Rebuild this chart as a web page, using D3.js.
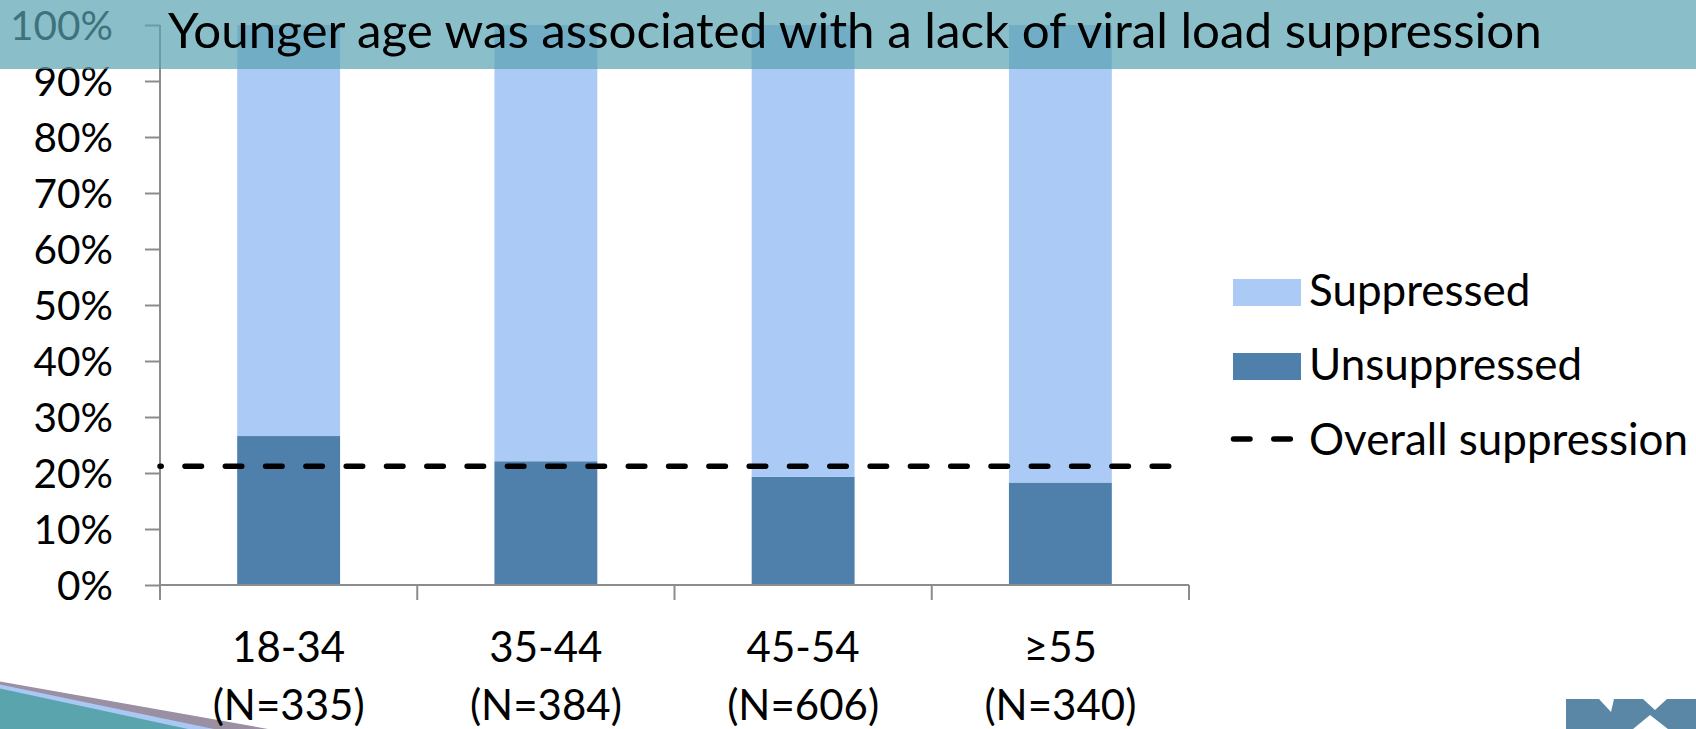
<!DOCTYPE html>
<html>
<head>
<meta charset="utf-8">
<script src="https://cdn.jsdelivr.net/npm/d3@7"></script>
<style>
  html, body { margin: 0; padding: 0; background: #fff; }
  svg { display: block; }
  text { font-family: Lato, "Noto Sans", sans-serif; fill: #000; }
</style>
</head>
<body>
<svg id="chart" width="1696" height="729"></svg>
<script>
// Viral load suppression by age group
const ageGroups = ["18-34", "35-44", "45-54", "≥55"];
const groupSizes = [335, 384, 606, 340];
const unsuppressedPct = [26.6, 22.1, 19.3, 18.3];
const suppressedPct = unsuppressedPct.map(v => 100 - v);
const overallLevel = 21.2;
const yTickValues = [0, 10, 20, 30, 40, 50, 60, 70, 80, 90, 100];
const titleText = "Younger age was associated with a lack of viral load suppression";
const legendItems = ["Suppressed", "Unsuppressed", "Overall suppression"];

const colors = { suppressed: "#abcaf6", unsuppressed: "#4f80ab", axis: "#8c8c8c" };

const svg = d3.select("#chart");
const W = 1696, H = 729;
const plot = { left: 160, right: 1189, top: 25, bottom: 585 };

const x = d3.scaleBand().domain(ageGroups).range([plot.left, plot.right])
  .paddingInner(0.6).paddingOuter(0.3);
const y = d3.scaleLinear().domain([0, 100]).range([plot.bottom, plot.top]);

// scale a text selection so that a reference string spans the given width
function fitFont(sel, sample, targetWidth) {
  const probe = svg.append("text").attr("font-size", 100).text(sample);
  const w = probe.node().getComputedTextLength();
  probe.remove();
  const size = 100 * targetWidth / w;
  sel.attr("font-size", size);
  return size;
}

// bottom-left decorative slopes
const deco = svg.append("g");
deco.append("polygon").attr("points", "0,681.5 268,729 0,729").attr("fill", "#9a8fa3");
deco.append("polygon").attr("points", "0,684.5 214,729 0,729").attr("fill", "#a9c8f4");
deco.append("polygon").attr("points", "0,688.5 188,729 0,729").attr("fill", "#5aa4ad");

// bottom-right logo fragment
svg.append("polygon")
  .attr("points", "1566,699 1599,699 1611,712 1614,699 1643,699 1655,710 1667,699 1696,699 1696,729 1668,729 1650,715 1633,729 1566,729")
  .attr("fill", "#5b87a6");

// stacked bars
const stackData = ageGroups.map((g, i) => ({ group: g, unsuppressed: unsuppressedPct[i], suppressed: suppressedPct[i] }));
const series = d3.stack().keys(["unsuppressed", "suppressed"])(stackData);
svg.append("g").selectAll("g").data(series).join("g")
  .attr("fill", d => colors[d.key])
  .selectAll("rect").data(d => d).join("rect")
  .attr("x", d => x(d.data.group))
  .attr("width", x.bandwidth())
  .attr("y", d => y(d[1]))
  .attr("height", d => y(d[0]) - y(d[1]));

// y axis
const yAxis = svg.append("g").attr("transform", `translate(${plot.left},0)`)
  .call(d3.axisLeft(y).tickValues(yTickValues).tickSize(15).tickPadding(32)
    .tickFormat(d => d + "%"));
yAxis.select(".domain").remove();
yAxis.selectAll(".tick line").attr("stroke", colors.axis).attr("stroke-width", 2);
yAxis.append("line").attr("x1", 0).attr("x2", 0).attr("y1", plot.top).attr("y2", plot.bottom + 15)
  .attr("stroke", colors.axis).attr("stroke-width", 2);
const yLabels = yAxis.selectAll(".tick text").attr("font-family", "Lato").attr("fill", "#000").attr("dy", "0.36em");
fitFont(yLabels, "100%", 103);

// x axis with category boundary ticks
const xAxis = svg.append("g");
xAxis.append("line").attr("x1", plot.left).attr("x2", plot.right)
  .attr("y1", plot.bottom).attr("y2", plot.bottom)
  .attr("stroke", colors.axis).attr("stroke-width", 2);
const boundaries = ageGroups.map((g, i) => plot.left + x.step() * (i + 1));
xAxis.selectAll("line.tk").data(boundaries).join("line").attr("class", "tk")
  .attr("x1", d => d).attr("x2", d => d)
  .attr("y1", plot.bottom).attr("y2", plot.bottom + 15)
  .attr("stroke", colors.axis).attr("stroke-width", 2);

const xLabels = svg.append("g").selectAll("text").data(ageGroups).join("text")
  .attr("text-anchor", "middle")
  .attr("x", d => x(d) + x.bandwidth() / 2);
xLabels.append("tspan").attr("x", d => x(d) + x.bandwidth() / 2).attr("y", 662).text(d => d);
xLabels.append("tspan").attr("x", d => x(d) + x.bandwidth() / 2).attr("y", 720)
  .text((d, i) => `(N=${groupSizes[i]})`);
fitFont(xLabels, "(N=335)", 152);

// overall reference line
const dash = "16.5,23.8";
svg.append("line")
  .attr("x1", plot.left).attr("x2", plot.right)
  .attr("y1", y(overallLevel)).attr("y2", y(overallLevel))
  .attr("stroke", "#000").attr("stroke-width", 5.5)
  .attr("stroke-linecap", "round")
  .attr("stroke-dasharray", dash).attr("stroke-dashoffset", 15.3);

// legend
const legend = svg.append("g");
const legendTextX = 1309;
legend.append("rect").attr("x", 1233).attr("y", 279).attr("width", 68).attr("height", 27)
  .attr("fill", colors.suppressed);
legend.append("rect").attr("x", 1233).attr("y", 353).attr("width", 68).attr("height", 27)
  .attr("fill", colors.unsuppressed);
legend.append("line").attr("x1", 1233.5).attr("x2", 1290.5).attr("y1", 439).attr("y2", 439)
  .attr("stroke", "#000").attr("stroke-width", 5.5).attr("stroke-linecap", "round")
  .attr("stroke-dasharray", dash);
const legendText = legend.selectAll("text").data(legendItems).join("text")
  .attr("x", legendTextX)
  .attr("y", (d, i) => [306, 380, 455][i])
  .text(d => d);
fitFont(legendText, "Overall suppression", 379);

// title banner (translucent, sits over the chart top)
svg.append("rect").attr("x", 0).attr("y", 0).attr("width", W).attr("height", 69)
  .attr("fill", "rgb(89,162,178)").attr("fill-opacity", 0.7);
const title = svg.append("text").attr("x", 168).attr("y", 48).text(titleText);
fitFont(title, titleText, 1374);
</script>
</body>
</html>
